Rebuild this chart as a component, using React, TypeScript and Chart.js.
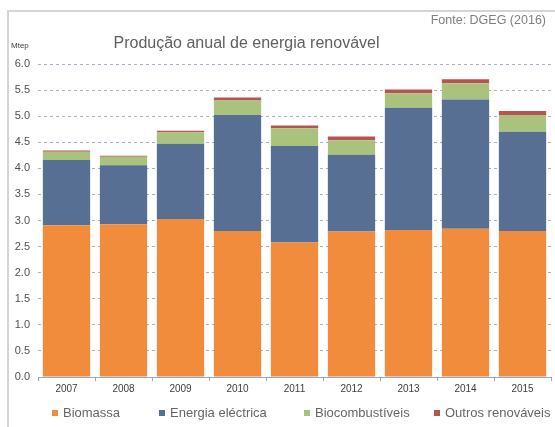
import React, { useEffect, useRef } from "react";
import { Chart, registerables } from "chart.js";

Chart.register(...registerables);

const years = ["2007", "2008", "2009", "2010", "2011", "2012", "2013", "2014", "2015"];
const biomassa = [2.91, 2.93, 3.03, 2.8, 2.58, 2.79, 2.82, 2.84, 2.8];
const energiaElectrica = [1.25, 1.13, 1.44, 2.22, 1.85, 1.47, 2.34, 2.48, 1.9];
const biocombustiveis = [0.16, 0.16, 0.22, 0.28, 0.34, 0.28, 0.28, 0.31, 0.32];
const outros = [0.02, 0.02, 0.03, 0.06, 0.05, 0.07, 0.07, 0.08, 0.08];

const seriesNames = ["Biomassa", "Energia eléctrica", "Biocombustíveis", "Outros renováveis"];
const seriesColors = ["#F08C3B", "#566F93", "#A9C37F", "#B9534F"];

const FONT = "'Liberation Sans', Arial, sans-serif";

export default function App() {
  const ref = useRef<HTMLCanvasElement | null>(null);

  useEffect(() => {
    if (!ref.current) return;
    const data = [biomassa, energiaElectrica, biocombustiveis, outros];
    const chart = new Chart(ref.current, {
      type: "bar",
      data: {
        labels: years,
        datasets: data.map((d, i) => ({
          label: seriesNames[i],
          data: d,
          backgroundColor: seriesColors[i],
          borderWidth: 0,
          categoryPercentage: 1,
          barPercentage: 0.83,
        })),
      },
      options: {
        animation: false,
        responsive: false,
        maintainAspectRatio: false,
        layout: { padding: { top: 64, right: 4, bottom: 28, left: 0 } },
        plugins: {
          legend: { display: false },
          title: { display: false },
          tooltip: { enabled: false },
        },
        scales: {
          x: {
            stacked: true,
            offset: true,
            grid: {
              offset: true,
              drawOnChartArea: false,
              drawTicks: true,
              tickLength: 4,
              color: "#8EA9D0",
            },
            border: { display: true, color: "#8EA9D0", width: 1 },
            ticks: {
              color: "#404040",
              font: { family: FONT, size: 10 },
              padding: 2,
            },
            afterFit: (s: any) => {
              s.height = 22;
            },
          },
          y: {
            stacked: true,
            min: 0,
            max: 6,
            grid: {
              color: (ctx: any) => (ctx.tick && ctx.tick.value === 0 ? "rgba(0,0,0,0)" : "#A3B2C8"),
              drawTicks: false,
              lineWidth: 1,
            },
            border: { display: false, dash: [3, 3] },
            ticks: {
              stepSize: 0.5,
              color: "#505050",
              font: { family: FONT, size: 11 },
              padding: 8,
              callback: (v: any) => Number(v).toFixed(1),
            },
            afterFit: (s: any) => {
              s.width = 38;
            },
          },
        },
      },
    });
    return () => chart.destroy();
  }, []);

  const legendPos = [52, 159, 304, 434];

  return (
    <div
      style={{
        position: "fixed",
        left: 0,
        top: 0,
        width: 555,
        height: 427,
        background: "#fff",
        fontFamily: FONT,
        overflow: "hidden",
      }}
    >
      <div
        style={{
          position: "absolute",
          left: 7,
          top: 10,
          width: 560,
          height: 430,
          borderLeft: "2px solid #D4D4D4",
          borderTop: "2px solid #D4D4D4",
        }}
      />
      <canvas ref={ref} width={555} height={427} style={{ position: "absolute", left: 0, top: 0 }} />
      <div
        style={{
          position: "absolute",
          left: 0,
          width: 493,
          top: 34,
          textAlign: "center",
          fontSize: 16,
          color: "#606060",
        }}
      >
        Produção anual de energia renovável
      </div>
      <div style={{ position: "absolute", right: 9, top: 13, fontSize: 12.5, color: "#7F7F7F" }}>
        Fonte: DGEG (2016)
      </div>
      <div style={{ position: "absolute", left: 11, top: 41, fontSize: 8, color: "#404040" }}>Mtep</div>
      {seriesNames.map((n, i) => (
        <div
          key={n}
          style={{
            position: "absolute",
            left: legendPos[i],
            top: 405,
            fontSize: 13,
            color: "#666666",
            display: "flex",
            alignItems: "center",
            whiteSpace: "nowrap",
          }}
        >
          <span
            style={{
              display: "inline-block",
              width: 6,
              height: 6,
              background: seriesColors[i],
              marginRight: 5,
            }}
          />
          {n}
        </div>
      ))}
    </div>
  );
}
